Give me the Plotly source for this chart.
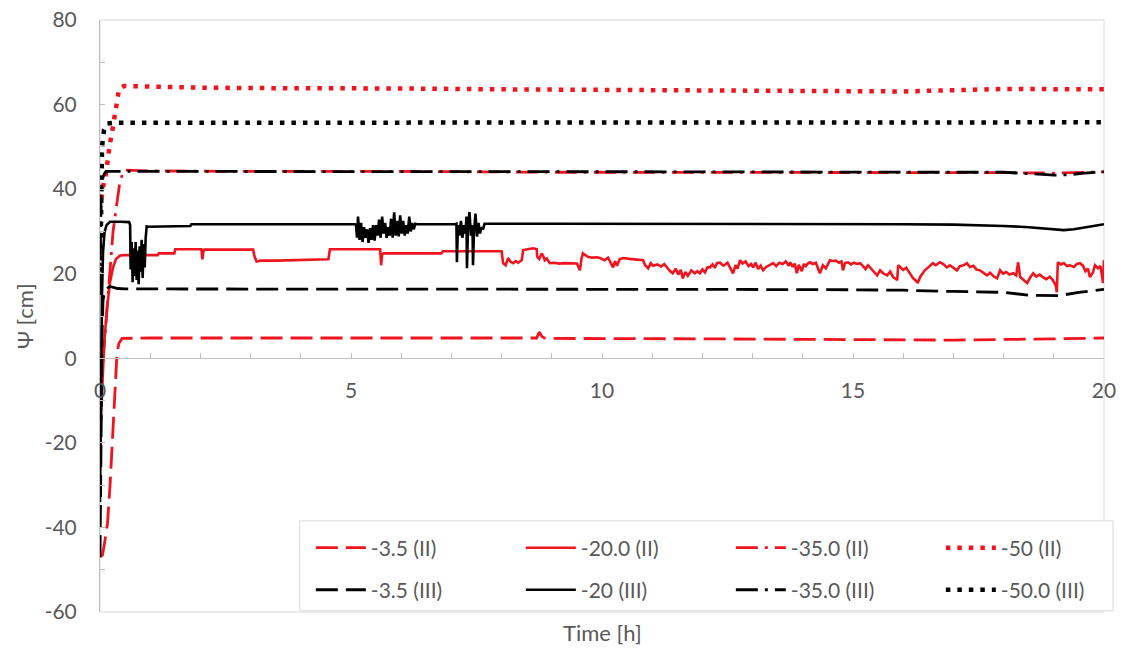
import plotly.graph_objects as go

# ---------------- data ----------------
# -3.5 (II)
t_r35 = [0, 0.05, 0.1, 0.15, 0.2, 0.25, 0.3, 0.34, 0.38, 0.44, 1, 3, 5, 8.7, 8.75, 8.8, 8.85, 9, 12, 15, 17, 19, 20]
v_r35 = [-47, -46.5, -43, -39, -30, -18, -5, 1.5, 3.6, 4.7, 4.8, 4.8, 4.8, 4.8, 6.2, 5.2, 4.8, 4.7, 4.6, 4.4, 4.3, 4.6, 4.8]

# -20.0 (II)
t_r20 = [0, 0.04, 0.08, 0.14, 0.2, 0.26, 0.32, 0.4, 0.5, 1.15, 1.17, 1.48, 1.5, 2.02, 2.04, 2.06, 2.08,
         3.05, 3.08, 3.12, 3.2, 3.5, 4.0, 4.55, 4.58, 5.58, 5.6, 5.62, 5.65, 6.8, 6.83, 7.95,
         8.00, 8.03, 8.08, 8.13, 8.18, 8.23, 8.28, 8.33, 8.40, 8.43, 8.50, 8.63, 8.70, 8.71, 8.75, 8.80, 8.83,
         8.86, 8.90, 8.96, 9.05, 9.15, 9.25, 9.35, 9.45, 9.50, 9.56, 9.59, 9.62, 9.67, 9.72, 9.80, 9.90,
         9.96, 10.05, 10.12, 10.17, 10.22, 10.26, 10.30, 10.35, 10.42, 10.55, 10.70, 10.82, 10.86, 10.92,
         10.97, 11.02, 11.10, 11.18, 11.24, 11.29, 11.35, 11.41, 11.47, 11.52, 11.57, 11.61, 11.66, 11.71,
         11.78, 11.85, 11.90, 11.95, 12.00, 12.05, 12.10, 12.15, 12.20, 12.25, 12.29, 12.35, 12.42, 12.50,
         12.56, 12.61, 12.66, 12.70, 12.75, 12.80, 12.86, 12.92, 12.97, 13.01, 13.06, 13.11, 13.16, 13.21,
         13.27, 13.33, 13.41, 13.47, 13.53, 13.60, 13.66, 13.72, 13.75, 13.80, 13.84, 13.88, 13.92, 13.98,
         14.02, 14.06, 14.10, 14.14, 14.20, 14.26, 14.30, 14.34, 14.40, 14.46, 14.54, 14.60, 14.66, 14.72,
         14.77, 14.80, 14.84, 14.90, 14.96, 15.02, 15.08, 15.14, 15.20, 15.25, 15.30, 15.34, 15.40, 15.48,
         15.54, 15.60, 15.68, 15.74, 15.80, 15.88, 15.90, 15.95, 16.00, 16.06, 16.12, 16.20, 16.25, 16.29,
         16.34, 16.43, 16.50, 16.59, 16.65, 16.73, 16.80, 16.87, 16.93, 17.00, 17.07, 17.13, 17.20, 17.27,
         17.33, 17.40, 17.46, 17.53, 17.60, 17.67, 17.73, 17.80, 17.87, 17.93, 17.99, 18.05, 18.12, 18.19,
         18.25, 18.29, 18.33, 18.40, 18.47, 18.53, 18.59, 18.65, 18.72, 18.78, 18.85, 18.92, 18.98, 19.04,
         19.06, 19.08, 19.14, 19.20, 19.26, 19.32, 19.40, 19.46, 19.52, 19.58, 19.63, 19.68, 19.72, 19.78,
         19.82, 19.88, 19.93, 19.96, 19.98, 20.00]
v_r20 = [-20, -7, 3, 12, 18, 21.5, 23.5, 24.3, 24.4, 24.4, 24.8, 24.8, 25.8, 25.8, 23.4, 25.3, 25.7,
         25.7, 24.0, 22.9, 23.1, 23.1, 23.2, 23.4, 25.8, 25.8, 22.0, 24.6, 24.8, 24.8, 25.3, 25.3,
         25.3, 22.5, 22.0, 23.7, 22.8, 22.5, 23.0, 22.6, 23.2, 25.6, 25.8, 26.0, 25.8, 24.0, 23.5, 24.8, 24.2,
         23.2, 23.6, 22.5, 22.6, 22.4, 22.5, 22.5, 22.5, 22.4, 20.8, 23.5, 24.8, 24.3, 24.0, 23.8, 23.9,
         23.7, 23.2, 23.8, 22.6, 21.5, 23.0, 21.9, 23.4, 23.7, 23.5, 23.3, 23.2, 22.0, 21.3,
         22.5, 21.9, 22.2, 21.7, 22.3, 21.5, 20.7, 20.1, 21.2, 19.8, 20.9, 18.9, 20.4, 19.5,
         20.8, 20.1, 20.6, 20.1, 21.0, 20.3, 21.5, 21.5, 22.2, 21.4, 22.5, 22.6, 21.9, 22.6,
         21.0, 20.1, 22.0, 21.2, 23.2, 22.4, 22.9, 21.8, 22.3, 21.5, 22.6, 21.1, 21.9, 20.8,
         21.6, 22.0, 22.5, 21.8, 22.6, 22.3, 22.9, 21.9, 22.7, 21.6, 22.4, 20.1, 22.1, 20.6,
         22.3, 21.8, 22.4, 22.7, 22.3, 22.6, 21.5, 20.1, 22.0, 21.3, 23.2, 23.0, 23.1, 22.6,
         22.9, 20.8, 22.5, 22.7, 22.2, 22.6, 22.3, 22.5, 21.8, 21.1, 22.0, 21.5, 20.6, 19.6,
         20.8, 20.1, 19.6, 20.5, 19.2, 18.5, 22.0, 21.5, 20.9, 21.4, 20.2, 18.9, 18.4, 17.8,
         19.3, 20.8, 21.5, 22.5, 22.0, 22.7, 22.3, 21.5, 22.0, 21.3, 20.8, 21.8, 22.0, 22.5,
         21.6, 21.9, 21.0, 20.8, 20.3, 19.6, 20.2, 19.4, 18.9, 20.8, 20.0, 20.4, 19.8, 20.1,
         19.6, 22.7, 19.2, 18.6, 17.8, 19.1, 20.1, 19.3, 19.8, 19.2, 18.7, 19.3, 18.5, 17.2,
         15.6, 22.7, 22.2, 22.5, 21.8, 22.0, 21.6, 22.3, 22.5, 21.9, 20.6, 21.2, 19.2, 20.3,
         22.0, 21.3, 21.8, 19.5, 17.8, 23.2]

# -35.0 (II)
t_r350 = [0, 0.1, 0.16, 0.2, 0.26, 0.34, 0.4, 0.48, 1, 3, 6, 9, 12, 15, 18, 19, 20]
v_r350 = [-10, 5, 15, 21, 30, 37, 42, 44.5, 44.3, 44.2, 44.2, 44.0, 44.0, 43.9, 43.9, 43.8, 44.1]

# -50 (II)
t_r50 = [0, 0.06, 0.12, 0.16, 0.2, 0.24, 0.3, 0.34, 0.38, 0.48, 1, 2, 3, 4, 5, 6, 8, 10, 12, 14, 16, 18, 19, 20]
v_r50 = [35, 40.5, 43.8, 48.5, 51, 53.5, 58.7, 61.3, 63.7, 64.4, 64.2, 64.0, 63.9, 63.9, 63.8, 63.8, 63.6, 63.5,
         63.4, 63.3, 63.1, 63.7, 63.6, 63.6]

# -3.5 (III)
t_b35 = [0, 0.02, 0.04, 0.06, 0.1, 0.2, 0.35, 0.5, 1, 3, 6, 9, 12, 15, 16, 17, 18, 18.5, 19.1, 19.5, 20]
v_b35 = [-47, -20, 5, 13.7, 16.2, 17, 16.5, 16.4, 16.4, 16.4, 16.3, 16.3, 16.3, 16.2, 16.1, 15.8, 15.6, 14.9,
         14.8, 15.6, 16.3]

# -20 (III)
t_b20 = [0, 0.02, 0.04, 0.06, 0.09, 0.13, 0.2, 0.4, 0.58,
         0.60, 0.61, 0.63, 0.65, 0.67, 0.69, 0.71, 0.73, 0.75, 0.77, 0.79, 0.81, 0.83, 0.85, 0.87, 0.89,
         0.91, 0.93, 0.96, 1.5, 1.8, 1.82, 3.0, 4.0, 5.08,
         5.10, 5.12, 5.14, 5.17, 5.20, 5.23, 5.26, 5.29, 5.32, 5.35, 5.38, 5.41, 5.44, 5.47, 5.50, 5.53,
         5.56, 5.59, 5.62, 5.65, 5.68, 5.71, 5.74, 5.77, 5.80, 5.83, 5.86, 5.89, 5.92, 5.95, 5.98, 6.01,
         6.04, 6.07, 6.10, 6.13, 6.16, 6.19, 6.22, 6.25, 6.28, 6.32, 7.08,
         7.10, 7.11, 7.13, 7.16, 7.19, 7.22, 7.25, 7.28, 7.30, 7.31, 7.33, 7.36, 7.39, 7.42, 7.43, 7.45,
         7.48, 7.51, 7.54, 7.57, 7.60, 7.63, 7.66, 9, 11, 13, 15, 16, 17, 17.5, 18, 18.5, 18.8, 19.0,
         19.2, 19.4, 19.6, 19.8, 20]
v_b20 = [-34, -5, 15, 25, 29.8, 31.5, 32.3, 32.3, 32.2,
         31.5, 21, 27.5, 18, 26, 19.5, 27.5, 18.5, 25.5, 17.5, 26.5, 20.5, 28, 19, 27, 21.5,
         28.5, 31.2, 31.1, 31.2, 31.3, 31.7, 31.7, 31.7, 31.7,
         31.5, 28.5, 33.5, 28.0, 32.0, 27.5, 31.0, 28.5, 30.5, 27.3, 30.8, 28.0, 31.5, 27.8, 31.5, 29.0,
         32.8, 28.5, 33.5, 29.5, 32.0, 28.5, 31.0, 29.0, 33.0, 28.5, 34.5, 29.0, 32.5, 28.8, 33.8, 29.5,
         32.5, 29.0, 31.5, 29.5, 33.5, 30.0, 32.0, 30.5, 31.8, 31.7, 31.7,
         31.8, 22.7, 31.5, 29.0, 32.5, 28.5, 31.5, 29.5, 33.5, 21.3, 30.5, 34.6, 29.0, 31.5, 22.0, 30.0,
         34.2, 28.8, 32.0, 29.5, 31.0, 30.5, 31.8, 31.8, 31.8, 31.8, 31.7, 31.7, 31.6, 31.5, 31.3, 31.0,
         30.7, 30.4, 30.3, 30.5, 30.9, 31.4, 31.7]

# -35.0 (III)
t_b350 = [0, 0.02, 0.04, 0.08, 0.12, 1, 4, 8, 12, 16, 18, 18.6, 19.0, 19.3, 19.6, 20]
v_b350 = [15, 38, 42, 43.5, 44.2, 44.2, 44.1, 44.1, 44.1, 44.0, 44.0, 43.6, 43.3, 43.4, 43.8, 44.1]

# -50.0 (III)
t_b50 = [0, 0.02, 0.04, 0.08, 0.14, 0.3, 2, 5, 8, 11, 14, 17, 20]
v_b50 = [15, 40, 50, 54, 55.5, 55.7, 55.7, 55.7, 55.8, 55.8, 55.8, 55.7, 55.8]

y_tickvals = [-60, -40, -20, 0, 20, 40, 60, 80]
y_ticktext = ["-60", "-40", "-20", "0", "20", "40", "60", "80"]
x_tickvals = [0, 5, 10, 15, 20]
x_ticktext = ["0", "5", "10", "15", "20"]

RED = "#f0141e"
BLK = "#000000"
GRAY_TXT = "#595959"
AX = "#bfbfbf"
FONT = "Lato"

series = [
    ("-3.5 (II)", t_r35, v_r35, RED, "22px,8px", 2.8, "legend"),
    ("-20.0 (II)", t_r20, v_r20, RED, "solid", 2.6, "legend"),
    ("-35.0 (II)", t_r350, v_r350, RED, "22px,7px,3px,7px", 2.8, "legend"),
    ("-50 (II)", t_r50, v_r50, RED, "4.5px,7px", 4.5, "legend"),
    ("-3.5 (III)", t_b35, v_b35, BLK, "22px,8px", 2.8, "legend2"),
    ("-20 (III)", t_b20, v_b20, BLK, "solid", 2.6, "legend2"),
    ("-35.0 (III)", t_b350, v_b350, BLK, "22px,7px,3px,7px", 2.8, "legend2"),
    ("-50.0 (III)", t_b50, v_b50, BLK, "4.5px,7px", 4.5, "legend2"),
]

fig = go.Figure()
for name, t, v, col, dash, w, lg in series:
    fig.add_trace(go.Scatter(x=t, y=v, mode="lines", name=name, legend=lg,
                             line=dict(color=col, width=w, dash=dash)))

# frame
fig.add_shape(type="rect", xref="x domain", yref="y domain", x0=0, x1=1, y0=0, y1=1,
              line=dict(color="#d9d9d9", width=1), layer="below")
# legend box
fig.add_shape(type="rect", xref="paper", yref="paper", x0=0.199, x1=1.009, y0=0.002, y1=0.154,
              line=dict(color="#d9d9d9", width=1), fillcolor="white", layer="above")

legend_common = dict(orientation="h", entrywidth=145, entrywidthmode="pixels", itemwidth=50,
                     bgcolor="rgba(0,0,0,0)", borderwidth=0, itemclick=False,
                     font=dict(family=FONT, size=21, color=GRAY_TXT),
                     xanchor="left", yanchor="middle", traceorder="normal")

fig.update_layout(
    width=1121, height=648,
    margin=dict(l=100, r=17, t=20, b=36, autoexpand=False),
    paper_bgcolor="white", plot_bgcolor="white",
    font=dict(family=FONT, size=21, color=GRAY_TXT),
    showlegend=True,
    legend=dict(x=0.21, y=0.108, **legend_common),
    legend2=dict(x=0.21, y=0.037, **legend_common),
    xaxis=dict(range=[0, 20], tickvals=x_tickvals, ticktext=x_ticktext,
               anchor="free", position=60 / 140, showline=True, linecolor=AX, linewidth=1,
               ticks="inside", ticklen=5, tickcolor=AX,
               minor=dict(dtick=1, ticks="inside", ticklen=5, tickcolor=AX),
               showgrid=False, zeroline=False, ticklabelstandoff=14,
               tickfont=dict(family=FONT, size=21, color=GRAY_TXT)),
    yaxis=dict(range=[-60, 80], tickvals=y_tickvals, ticktext=y_ticktext,
               showline=True, linecolor=AX, linewidth=1,
               ticks="inside", ticklen=5, tickcolor=AX,
               minor=dict(tickvals=[-50, -30, -10, 10, 30, 50, 70], ticks="inside", ticklen=5, tickcolor=AX),
               showgrid=False, zeroline=False, ticklabelstandoff=18,
               tickfont=dict(family=FONT, size=21, color=GRAY_TXT)),
    annotations=[
        dict(text="Ψ [cm]", xref="paper", yref="paper", x=-0.0757, y=0.5, showarrow=False,
             textangle=-90, xanchor="center", yanchor="middle",
             font=dict(family=FONT, size=22, color=GRAY_TXT)),
        dict(text="Time [h]", xref="paper", yref="paper", x=0.5, y=-0.034, showarrow=False,
             xanchor="center", yanchor="middle",
             font=dict(family=FONT, size=22, color=GRAY_TXT)),
    ],
)

fig.write_html("out.html")
